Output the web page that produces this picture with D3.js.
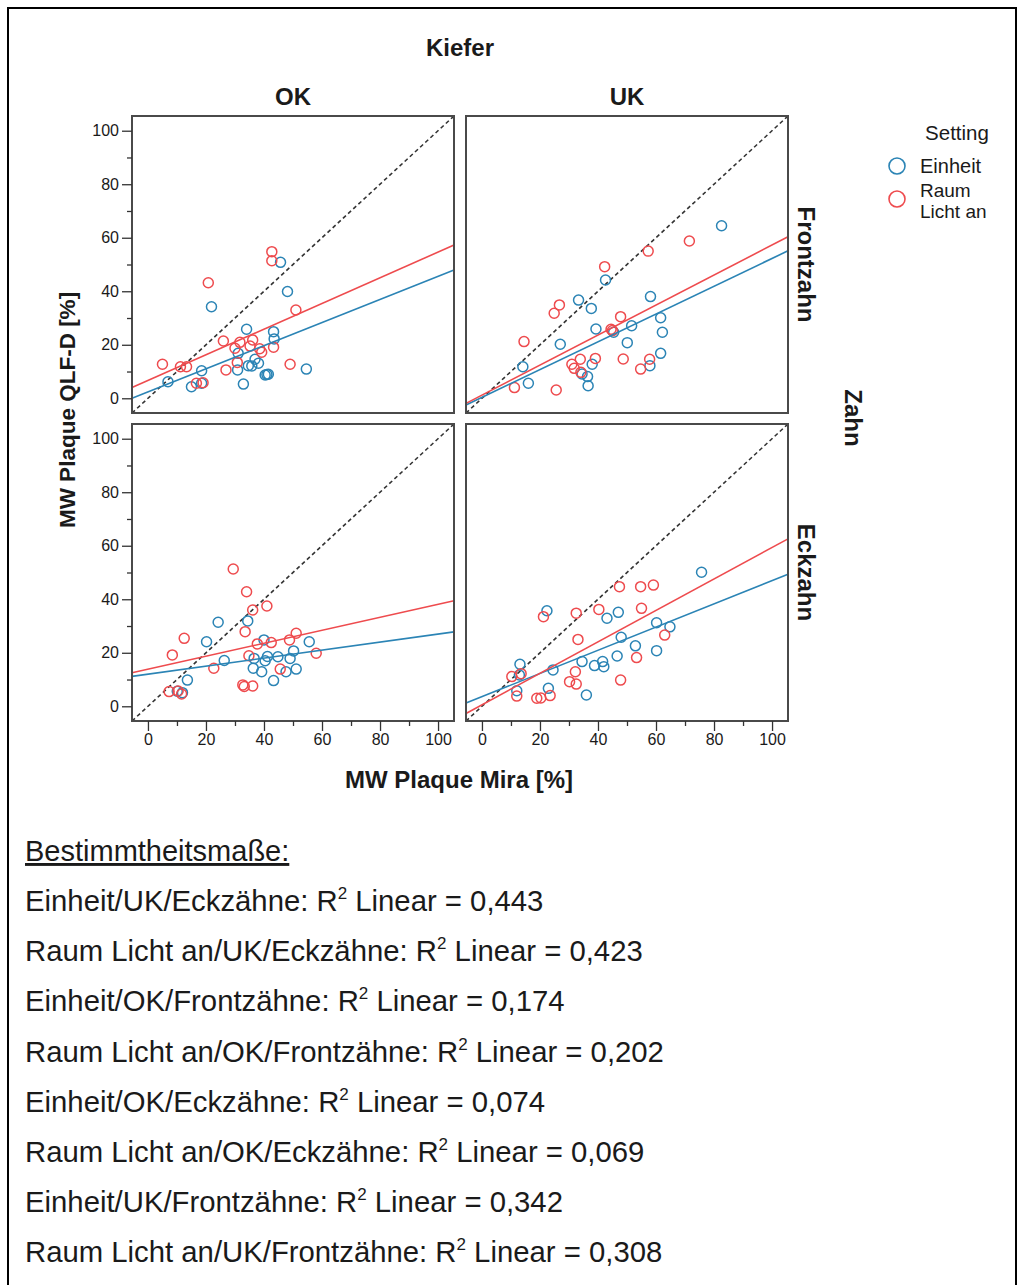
<!DOCTYPE html>
<html>
<head>
<meta charset="utf-8">
<script src="https://cdn.jsdelivr.net/npm/d3@7"></script>
<style>
  body { margin: 0; background: #fff; }
  text { font-family: "Liberation Sans", Arial, sans-serif; fill: #1a1a1a; }
</style>
</head>
<body>
<div id="chart"></div>
<script>
// facets + groups
const kieferCols = ['OK', 'UK'];
const zahnRows = ['Frontzahn', 'Eckzahn'];
const settings = ['Einheit', 'Raum\nLicht an'];
const majorTicks = [0, 20, 40, 60, 80, 100];
const minorTicks = [10, 30, 50, 70, 90];

// [Mira, QLF-D] per panel and setting
const okFrontEinheit = [[6.9,6.2],[15.0,4.3],[18.5,5.6],[18.5,10.3],[21.9,34.2],[30.9,10.6],[31.1,16.8],
  [32.9,5.3],[34.0,25.8],[34.6,12.2],[35.8,12.1],[36.9,14.6],[38.1,13.1],[40.4,8.7],[41.0,8.9],[41.5,9.0],
  [43.3,24.9],[43.5,22.2],[45.7,50.8],[48.1,39.9],[54.6,10.9]];
const okFrontRaum = [[5.0,12.7],[11.2,11.8],[13.3,11.8],[16.7,5.6],[19.0,5.8],[20.8,43.2],[26.0,21.4],
  [26.9,10.6],[30.0,18.7],[30.8,13.4],[31.7,20.9],[35.2,19.5],[36.1,21.8],[38.5,18.5],[39.2,17.2],
  [42.7,54.8],[42.7,51.4],[43.3,19.1],[49.0,12.7],[51.0,33.0]];
const ukFrontEinheit = [[14.1,11.8],[16.0,5.6],[27.0,20.2],[33.3,36.7],[34.5,9.1],[36.4,8.1],[36.6,4.7],
  [37.7,33.6],[38.0,12.7],[39.3,25.9],[42.6,44.2],[45.4,24.7],[50.1,20.8],[51.6,27.1],[57.9,12.2],
  [58.1,38.0],[61.6,30.1],[61.6,16.8],[62.2,24.7],[82.6,64.5]];
const ukFrontRaum = [[11.2,4.0],[14.5,21.2],[24.9,31.8],[25.6,3.1],[26.7,34.9],[31.0,12.7],[31.8,11.2],
  [33.9,14.6],[34.1,9.7],[39.1,14.9],[42.3,49.2],[44.5,25.8],[45.0,25.3],[47.8,30.5],[48.7,14.7],
  [54.7,10.9],[57.3,55.0],[57.8,14.6],[71.5,58.8]];
const okEckEinheit = [[10.1,5.6],[11.9,5.1],[13.6,9.8],[20.2,24.1],[24.2,31.4],[26.3,17.1],[34.4,31.9],
  [36.3,14.2],[36.6,17.9],[39.2,12.9],[40.0,24.8],[40.4,17.0],[41.2,18.6],[43.3,9.6],[44.8,18.5],
  [47.6,12.9],[49.0,17.9],[50.2,20.7],[51.1,13.9],[55.6,24.1]];
const okEckRaum = [[7.3,5.5],[8.4,19.2],[10.4,5.7],[11.6,4.6],[12.5,25.4],[22.7,14.2],[29.4,51.3],
  [32.7,8.0],[33.2,7.4],[33.5,27.9],[34.0,42.8],[34.8,18.9],[36.1,36.0],[36.1,7.6],[37.7,23.3],
  [41.0,37.5],[42.5,23.8],[45.6,13.9],[48.8,24.8],[51.1,27.3],[58.0,19.8]];
const ukEckEinheit = [[12.0,5.8],[12.9,11.7],[13.1,15.7],[22.4,35.7],[22.9,6.7],[24.5,13.6],[34.5,16.7],
  [36.0,4.2],[38.8,15.2],[41.6,16.7],[42.0,14.8],[43.1,32.9],[46.6,18.8],[47.0,35.1],[48.0,25.8],
  [52.9,22.6],[60.2,20.8],[60.2,31.2],[64.8,29.7],[75.7,50.1]];
const ukEckRaum = [[10.3,11.1],[12.0,3.8],[13.5,12.2],[18.9,3.0],[20.3,3.1],[21.2,33.5],[23.5,4.0],
  [30.2,9.2],[32.2,12.9],[32.5,8.3],[32.5,34.8],[33.1,25.0],[40.3,36.2],[47.4,44.7],[47.8,9.8],
  [53.3,18.2],[54.7,44.7],[55.0,36.6],[59.1,45.3],[63.0,26.6]];

// fit lines [intercept, slope], Einheit then Raum
const okFrontFit = [[2.37, 0.432], [6.64, 0.480]];
const ukFrontFit = [[0.36, 0.519], [1.18, 0.561]];
const okEckFit = [[12.0, 0.150], [13.84, 0.243]];
const ukEckFit = [[3.59, 0.434], [0.54, 0.588]];

const r2Names = ['Einheit/UK/Eckzähne', 'Raum Licht an/UK/Eckzähne', 'Einheit/OK/Frontzähne',
  'Raum Licht an/OK/Frontzähne', 'Einheit/OK/Eckzähne', 'Raum Licht an/OK/Eckzähne',
  'Einheit/UK/Frontzähne', 'Raum Licht an/UK/Frontzähne'];
const r2Values = ['0,443', '0,423', '0,174', '0,202', '0,074', '0,069', '0,342', '0,308'];

const panels = [
  {col: 0, row: 0, pts: [okFrontEinheit, okFrontRaum], fit: okFrontFit},
  {col: 1, row: 0, pts: [ukFrontEinheit, ukFrontRaum], fit: ukFrontFit},
  {col: 0, row: 1, pts: [okEckEinheit, okEckRaum], fit: okEckFit},
  {col: 1, row: 1, pts: [ukEckEinheit, ukEckRaum], fit: ukEckFit}
];

const colors = ['#2b84b5', '#ee4b4e'];
const W = 1018, H = 1285;
const panelX = [132, 466], panelY = [116, 424];
const panelW = 322, panelH = 297;
const dom = [-5.5, 105.5];

let svg = d3.select('#chart').append('svg')
  .attr('width', W)
  .attr('height', H);

// outer frame
svg.append('rect')
  .attr('x', 8).attr('y', 8)
  .attr('width', 1008).attr('height', 1290)
  .attr('fill', 'none')
  .attr('stroke', '#000')
  .attr('stroke-width', 2);

let sx = d3.scaleLinear().domain(dom).range([0, panelW]);
let sy = d3.scaleLinear().domain(dom).range([panelH, 0]);

panels.forEach((p) => {
  let g = svg.append('g')
    .attr('transform', 'translate(' + panelX[p.col] + ',' + panelY[p.row] + ')');

  // reference line y = x
  g.append('line')
    .attr('x1', sx(dom[0])).attr('y1', sy(dom[0]))
    .attr('x2', sx(dom[1])).attr('y2', sy(dom[1]))
    .attr('stroke', '#333')
    .attr('stroke-width', 1.6)
    .attr('stroke-dasharray', '4,3');

  p.pts.forEach((pts, k) => {
    g.selectAll('.pt' + k)
      .data(pts)
      .enter()
      .append('circle')
      .attr('class', 'pt' + k)
      .attr('cx', (d) => sx(d[0]))
      .attr('cy', (d) => sy(d[1]))
      .attr('r', 5)
      .attr('fill', 'none')
      .attr('stroke', colors[k])
      .attr('stroke-width', 1.5);
  });

  p.fit.forEach((f, k) => {
    g.append('line')
      .attr('x1', sx(dom[0])).attr('y1', sy(f[0] + f[1] * dom[0]))
      .attr('x2', sx(dom[1])).attr('y2', sy(f[0] + f[1] * dom[1]))
      .attr('stroke', colors[k])
      .attr('stroke-width', 1.6);
  });

  g.append('rect')
    .attr('width', panelW).attr('height', panelH)
    .attr('fill', 'none')
    .attr('stroke', '#4a4a4a')
    .attr('stroke-width', 2);

  if (p.col === 0) {
    g.append('g')
      .call(d3.axisLeft(sy).tickValues(majorTicks).tickSize(10).tickPadding(3))
      .call((a) => a.select('.domain').remove())
      .call((a) => a.selectAll('text').style('font-size', '16px'));
    g.append('g')
      .call(d3.axisLeft(sy).tickValues(minorTicks).tickSize(5).tickFormat(''))
      .call((a) => a.select('.domain').remove());
  }
  if (p.row === 1) {
    g.append('g')
      .attr('transform', 'translate(0,' + panelH + ')')
      .call(d3.axisBottom(sx).tickValues(majorTicks).tickSize(10).tickPadding(3))
      .call((a) => a.select('.domain').remove())
      .call((a) => a.selectAll('text').style('font-size', '16px'));
    g.append('g')
      .attr('transform', 'translate(0,' + panelH + ')')
      .call(d3.axisBottom(sx).tickValues(minorTicks).tickSize(5).tickFormat(''))
      .call((a) => a.select('.domain').remove());
  }
});
svg.selectAll('.tick line').attr('stroke', '#333').attr('stroke-width', 1.3);

// facet titles
let bold = (t, x, y, rot, size) => svg.append('text')
  .attr('transform', 'translate(' + x + ',' + y + ')' + (rot ? ' rotate(' + rot + ')' : ''))
  .attr('text-anchor', 'middle')
  .style('font-size', (size || 24) + 'px')
  .style('font-weight', 'bold')
  .text(t);

bold('Kiefer', 460, 56);
kieferCols.forEach((c, i) => bold(c, panelX[i] + panelW / 2, 105));
zahnRows.forEach((r, i) => bold(r, 798, panelY[i] + panelH / 2, 90));
bold('Zahn', 845, 418, 90);
bold('MW Plaque Mira [%]', 459, 788);
bold('MW Plaque QLF-D [%]', 75, 410, -90, 22.5);

// legend
svg.append('text')
  .attr('x', 957).attr('y', 140)
  .attr('text-anchor', 'middle')
  .style('font-size', '20.5px')
  .text('Setting');

settings.forEach((s, i) => {
  let cy = 166 + i * 33;
  svg.append('circle')
    .attr('cx', 897).attr('cy', cy).attr('r', 8)
    .attr('fill', 'none')
    .attr('stroke', colors[i])
    .attr('stroke-width', 1.6);
  // one text per line so the two-line label stays tight
  s.split('\n').forEach((l, j, arr) => {
    svg.append('text')
      .attr('x', 920)
      .attr('y', cy + 7 - (arr.length - 1) * 9.5 + j * 21.5)
      .style('font-size', arr.length > 1 ? '19px' : '20px')
      .text(l);
  });
});

// R² list
let tx = 25;
svg.append('text')
  .attr('x', tx).attr('y', 861)
  .style('font-size', '29px')
  .style('text-decoration', 'underline')
  .text('Bestimmtheitsmaße:');

r2Names.forEach((n, i) => {
  let t = svg.append('text')
    .attr('x', tx).attr('y', 911 + i * 50.2)
    .style('font-size', '29.3px');
  t.append('tspan').text(n + ': R');
  t.append('tspan').attr('dy', -12).style('font-size', '17px').text('2');
  t.append('tspan').attr('dy', 12).text(' Linear = ' + r2Values[i]);
});
</script>
</body>
</html>
